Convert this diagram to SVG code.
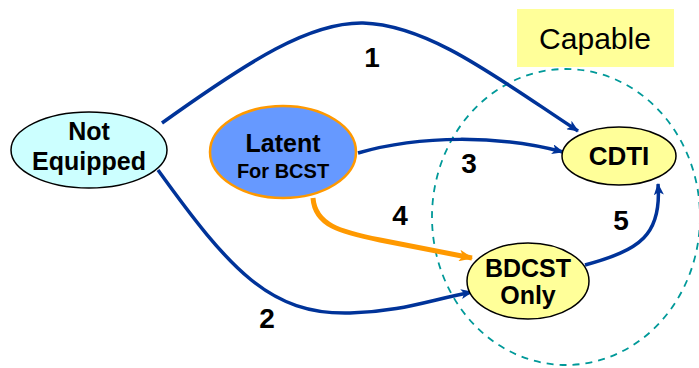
<svg xmlns="http://www.w3.org/2000/svg" width="699" height="368" viewBox="0 0 699 368">
<defs>
<marker id="ab" viewBox="0 0 12 10" refX="11" refY="5" markerWidth="12" markerHeight="10" markerUnits="userSpaceOnUse" orient="auto">
<path d="M0,0 L12,5 L0,10 L3,5 Z" fill="#003399"/>
</marker>
<marker id="ao" viewBox="0 0 12 10" refX="11" refY="5" markerWidth="14" markerHeight="12" markerUnits="userSpaceOnUse" orient="auto">
<path d="M0,0 L12,5 L0,10 L3,5 Z" fill="#FF9900"/>
</marker>
</defs>
<style>
.n{stroke:#000;stroke-width:1.5}
.t{font-family:"Liberation Sans",Arial,sans-serif;font-weight:bold;text-anchor:middle;fill:#000}
.c{fill:none;stroke:#003399;stroke-width:3.5;marker-end:url(#ab)}
.l{font-family:"Liberation Sans",Arial,sans-serif;font-weight:bold;font-size:28px;text-anchor:middle;fill:#000}
</style>
<rect x="517" y="9" width="157" height="58" fill="#FFFF99"/>
<text x="595" y="49" font-family="Liberation Sans, Arial, sans-serif" font-size="30" text-anchor="middle" fill="#000">Capable</text>
<ellipse cx="566" cy="217" rx="134" ry="148" fill="none" stroke="#009999" stroke-width="1.8" stroke-dasharray="7,6"/>
<g id="connectors">
<path class="c" d="M162,123 C250,60 310,22 363,23 C430,25 500,80 578,131"/>
<path class="c" d="M358,153 C420,135 500,135 563,152"/>
<path class="c" d="M158,170 C230,270 270,315 350,313 C400,312 430,300 472,292"/>
<path d="M313,198 C315,225 340,232 380,240 L472,258" fill="none" stroke="#FF9900" stroke-width="5" marker-end="url(#ao)"/>
<path class="c" d="M585,265 C640,250 662,235 658,184"/>
<text class="l" x="372" y="67">1</text>
<text class="l" x="267" y="328">2</text>
<text class="l" x="469" y="173">3</text>
<text class="l" x="400" y="225">4</text>
<text class="l" x="621" y="230">5</text>
</g>
<g id="not-equipped">
<ellipse class="n" cx="89" cy="150" rx="78" ry="38" fill="#CCFFFF"/>
<text class="t" x="89" y="140" font-size="25">Not</text>
<text class="t" x="89" y="170" font-size="25">Equipped</text>
</g>
<g id="latent">
<ellipse cx="283" cy="152" rx="73" ry="46" fill="#6699FF" stroke="#FF9900" stroke-width="2.5"/>
<text class="t" x="283" y="152" font-size="25">Latent</text>
<text class="t" x="283" y="178" font-size="20">For BCST</text>
</g>
<g id="cdti">
<ellipse class="n" cx="619" cy="156" rx="57" ry="29" fill="#FFFF99"/>
<text class="t" x="619" y="165" font-size="26">CDTI</text>
</g>
<g id="bdcst">
<ellipse class="n" cx="528" cy="281" rx="61" ry="38" fill="#FFFF99"/>
<text class="t" x="528" y="277" font-size="25">BDCST</text>
<text class="t" x="528" y="304" font-size="25">Only</text>
</g>
</svg>
